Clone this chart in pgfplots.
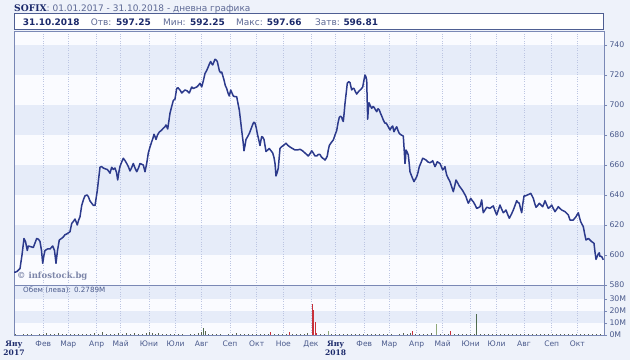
\documentclass[border=0pt]{standalone}
\usepackage{fontspec}
\setmainfont{DejaVu Sans}
\newfontfamily\serifb{DejaVu Serif}
\usepackage{pgfplots}
\pgfplotsset{compat=1.18}
\definecolor{bg}{HTML}{EEF2FA}
\definecolor{plotw}{HTML}{FAFBFF}
\definecolor{band}{HTML}{E6ECF9}
\definecolor{bordercol}{HTML}{7A88B5}
\definecolor{gridcol}{HTML}{BCC5E2}
\definecolor{linecol}{HTML}{2C3A8C}
\definecolor{labcol}{HTML}{4A5A8C}
\definecolor{hdr}{HTML}{5C6894}
\definecolor{navy}{HTML}{1C2A6B}
\definecolor{boxb}{HTML}{4E5E92}
\definecolor{volcol}{HTML}{5A6450}
\definecolor{volred}{HTML}{C8313A}
\definecolor{volgreen}{HTML}{8FA878}
\definecolor{voldkgreen}{HTML}{4F6B4F}
\newcommand{\yr}[2]{{\serifb\bfseries\color{navy}#1}\\{\serifb\bfseries\color{navy}#2}}
\begin{document}
\begin{tikzpicture}
\fill[bg] (0,0) rectangle (630bp,360bp);
\useasboundingbox (0,0) rectangle (630bp,360bp);
% main panel background and bands
\fill[plotw] (14bp,75bp) rectangle (604bp,329bp);
\fill[band] (14bp,105bp) rectangle (604bp,135bp);
\fill[band] (14bp,165bp) rectangle (604bp,195bp);
\fill[band] (14bp,225bp) rectangle (604bp,255bp);
\fill[band] (14bp,285bp) rectangle (604bp,315bp);
% volume panel background and bands
\fill[plotw] (14bp,25bp) rectangle (604bp,75bp);
\fill[band] (14bp,37bp) rectangle (604bp,49bp);
\fill[band] (14bp,61bp) rectangle (604bp,75bp);
% header
\node[anchor=base west, inner sep=0] at (14bp,348bp) {{\serifb\bfseries\fontsize{9.2}{10}\selectfont\color{navy}SOFIX}{\fontsize{9}{10}\selectfont\color{hdr}: 01.01.2017 - 31.10.2018 - дневна графика}};
\draw[boxb, fill=white, line width=0.9bp] (14bp,331bp) rectangle (603bp,346.5bp);
\begin{scope}[every node/.style={anchor=base west, inner sep=0, font=\fontsize{9}{10}\selectfont}]
\node[text=navy] at (22.7bp,334bp) {\bfseries 31.10.2018};
\node[text=hdr] at (90.7bp,334bp) {Отв:};
\node[text=navy] at (116bp,334bp) {\bfseries 597.25};
\node[text=hdr] at (163bp,334bp) {Мин:};
\node[text=navy] at (190bp,334bp) {\bfseries 592.25};
\node[text=hdr] at (236bp,334bp) {Макс:};
\node[text=navy] at (266.7bp,334bp) {\bfseries 597.66};
\node[text=hdr] at (315bp,334bp) {Затв:};
\node[text=navy] at (343.3bp,334bp) {\bfseries 596.81};
\end{scope}
% main price axis
\begin{axis}[
  at={(14bp,75bp)}, anchor=south west, scale only axis,
  width=590bp, height=254bp,
  xmin=14, xmax=604, ymin=580, ymax=749.333,
  axis line style={bordercol, line width=0.8bp},
  xtick={43.3,68.3,96.7,120.7,149,175.7,201.7,230,256.7,283.3,311,335.7,364.3,389.3,416.7,442.7,470.7,496.7,524,551.7,577.3},
  xticklabels={}, xtick style={draw=none},
  xmajorgrids, grid style={gridcol, dotted, line width=0.6bp},
  ytick={580,600,...,740}, ytick pos=right, yticklabel pos=right,
  tick align=outside, major tick length=3bp,
  ytick style={bordercol, line width=0.6bp},
  yticklabel style={font=\fontsize{7.8}{9}\selectfont, text=labcol, xshift=-1bp},
  /pgf/number format/assume math mode=true,
  clip=true,
]
\addplot[linecol, line width=1.5bp, line join=round, no marks] coordinates {
(14,588.5)(15,588.5)(17,589)(20,591)(22,600)(24,611)(25.5,609)(27.3,603)(28.3,606)(31,605.5)
(33.3,605)(35,608)(36.7,611)(38.5,610.5)(40,609)(41.5,603)(42.7,594.5)(44,600)(45,603)(47.5,604)
(50,604)(52.7,606)(54.5,603)(56,594.5)(57.5,603)(59.3,610)(61.5,611)(63.3,612)(65,613.5)(66.7,614)
(70,615.5)(71.7,621)(73.5,622.5)(75,624)(77.3,620)(78.5,623)(80,625.5)(81.7,633)(83.5,637)(85,639.5)
(87,640)(88.3,639)(90,636)(91.7,634.5)(93.5,633)(95,633)(97.3,643)(98.5,650)(100,658.5)(101.5,659)
(103.3,658)(105,657.5)(107.3,657)(108.5,656)(110,654.5)(111.7,658.5)(113.3,657)(115,658)(116.5,655)(117.7,650)
(118.8,655)(120,659)(121.7,662)(123.3,664.5)(125,663)(126.7,661)(128.3,659)(130,656)(131.5,658)(133.3,661)
(135,658)(136.7,655.5)(138.5,658)(140,661)(141.7,660.5)(143.3,660)(145,655.5)(146.7,661)(148.3,668)(150,672)
(151.7,675.5)(153,678)(154,680.5)(155,679)(156,677)(157.5,680)(159.3,682)(161.3,683)(163.3,684.5)(165,685.5)
(166,686.7)(167.7,684)(168.8,689)(170,694.5)(171.7,699)(173.3,703)(175,704)(176.7,711)(178,711.5)(179.3,710.5)
(180.5,709.5)(181.7,708)(183.3,709)(185,710)(187,709.5)(189.3,708)(190.5,710)(191.7,712)(193.3,711)(195,711.5)
(196.7,712)(198.3,713)(200,714.5)(201.7,712)(203.3,716)(205,721)(206.7,723)(208.3,725.5)(209.5,727.5)(210.7,729)
(211.7,727.5)(212.7,726.7)(213.8,728.5)(215,730.5)(216.2,730)(217.3,729)(218.3,726)(219.3,723)(220.5,721.5)(221.7,722)
(223,719)(224,716.7)(225.3,713)(226.7,711)(228,708)(229.3,706)(230.7,710)(232,708)(233.3,706)(235,705.5)
(236.7,705.5)(238,701)(239.3,696.7)(240.5,690)(241.7,683)(243,676)(244,669.5)(245,673)(246,677)(247.7,679)
(249.3,681)(251,684)(252.7,687)(253.8,688.5)(255,688)(256.2,685)(257.3,681)(258.7,677)(260,673)(260.8,676)
(261.7,679)(262.8,678.5)(264,677)(265,673)(266,669)(267.7,670)(269.3,671)(271,669.5)(272.7,668)(274,665)
(275,661)(276,652.7)(277.2,655)(278.3,658)(279.2,665)(280,671)(281.3,672)(282.7,672.7)(284.3,673.5)(286,674.5)
(288,673)(290,672)(292.5,671)(295,670)(297.5,670)(300,670.5)(302.5,669.5)(305,668)(306.7,667)(308.3,666)
(310,667.5)(311.7,669.5)(313.3,668)(315,666)(316.7,666)(318.3,667)(320,667)(321.3,665.5)(322.7,664.5)(324,664)
(325,663.3)(326.2,664.5)(327.3,666)(328.3,670)(329.3,673)(331.3,675)(333.3,676.7)(335,680)(336.7,683)(338,688)
(339.3,691.8)(340.5,692.5)(341.7,691.8)(342.5,690)(343.3,689)(344.2,695)(345,701)(346.2,708)(347.3,714.5)(348.7,715.5)
(350,715)(351,712)(351.7,710)(352.8,711)(354,711)(355.3,709)(356.7,707.3)(358,708.5)(359.3,709.5)(361,710.5)
(362.7,712)(363.8,716)(365,720)(365.8,719)(366.7,716.7)(367.2,703)(367.7,690.5)(368.3,697)(369,701.5)(370.3,699.5)
(371.7,697.8)(373,699)(374,698.5)(375.3,697)(376.7,695.5)(378,697.5)(379.3,696.7)(380.5,694.5)(381.7,692.7)(383.3,690)
(385,687.8)(386.2,688)(387.3,686.7)(388.7,685)(390,683.3)(391.3,685)(392.7,686)(393.3,684)(394,682.2)(395.3,684)
(396.7,685.5)(398,683)(399.3,681)(401.3,680)(403.3,679.3)(404.2,670)(405,661)(405.5,664)(406,670)(407.2,668.5)
(408.3,666.7)(409.2,661)(410,655.5)(412,652)(414,648.9)(415.3,650.5)(416.7,652.2)(418,655)(419.3,658.9)(421,661.5)
(422.7,664.5)(424.3,664)(426,663.3)(428,662)(430,661.5)(431.3,662)(432.7,662.9)(434,660.5)(435,658.9)(436.2,660.5)
(437.3,662.2)(438.7,661.5)(440,661)(441.3,659)(442.7,656.7)(443.8,657.5)(445,658.9)(445.8,656)(446.7,653.3)(448.3,651)
(450,648.9)(451.7,645.5)(453.3,642.2)(454.7,646)(456,650)(457.7,648)(459.3,646)(461,644.5)(462.7,642.9)(464.3,641)
(466,638.9)(467.2,636.5)(468.3,634.5)(469.5,636)(470.7,637.8)(472,636.5)(473.3,635.5)(475,633.5)(476.7,631.1)(478.3,631.5)
(480,632.2)(481.7,636.7)(482.5,632)(483.3,628.2)(485,630)(486.7,631.8)(488.3,631.5)(490,631.1)(491.7,632)(493.3,632.7)
(495,629.5)(496.7,626.7)(498.3,630)(500,633.3)(501.7,630.5)(503.3,628.2)(504.7,629)(506,630)(507.7,627)(509.3,624.5)
(511.3,627)(513.3,630)(515,633)(516.7,636.2)(518,635)(519.3,634.5)(520.5,631)(521.7,628.2)(522.8,634)(524,639.3)
(525.7,639.5)(527.3,640)(529,640.5)(530.7,641.1)(532,639.5)(533.3,637.8)(534.7,634.5)(536,631.8)(537.7,633)(539.3,634.5)
(541,633.3)(542.7,632.2)(543.8,634)(545,636.2)(546.7,633.5)(548.3,631.1)(550,632)(551.7,633.3)(553.3,631)(555,628.9)
(556.7,630.5)(558.3,632.2)(560,631)(561.7,630)(563.3,629.5)(565,628.9)(566.7,627.8)(568.3,626.7)(569.2,625)(570,623.3)
(571.7,623.3)(573.3,623.3)(574.7,624.5)(576,625.5)(577.2,627)(578.3,628.2)(579.5,625)(580.7,622.2)(582,620.5)(583.3,618.9)
(584.7,614)(586,610)(587.2,610.5)(588.3,611.1)(590,610)(591.7,608.9)(593,608.3)(594,607.8)(595,602)(596,597.1)
(597.2,599)(598.3,600.7)(599.3,601.5)(600,599)(601.7,599)(603.3,596.8)
};
\end{axis}
\node[anchor=base west, inner sep=0, text=hdr!80, font=\serifb\bfseries\fontsize{8.5}{9}\selectfont] at (17bp,81bp) {© infostock.bg};
% volume axis
\begin{axis}[
  at={(14bp,25bp)}, anchor=south west, scale only axis,
  width=590bp, height=50bp,
  xmin=14, xmax=604, ymin=0, ymax=41.667,
  axis line style={bordercol, line width=0.8bp},
  xtick={14,43.3,68.3,96.7,120.7,149,175.7,201.7,230,256.7,283.3,311,335.7,364.3,389.3,416.7,442.7,470.7,496.7,524,551.7,577.3},
  xticklabels={\yr{Яну}{2017},Фев,Мар,Апр,Май,Юни,Юли,Авг,Сеп,Окт,Ное,Дек,\yr{Яну}{2018},Фев,Мар,Апр,Май,Юни,Юли,Авг,Сеп,Окт},
  xtick style={draw=none},
  xticklabel style={font=\fontsize{7.6}{9}\selectfont, text=labcol, align=center, yshift=1bp},
  xmajorgrids, grid style={gridcol, dotted, line width=0.6bp},
  ytick={0,10,20,30}, yticklabels={0M,10M,20M,30M},
  ytick pos=right, yticklabel pos=right,
  tick align=outside, major tick length=3bp,
  ytick style={bordercol, line width=0.6bp},
  yticklabel style={font=\fontsize{7.8}{9}\selectfont, text=labcol, xshift=-1bp},
  clip=true,
]
\addplot[ycomb, volcol, line width=0.8bp, no marks] coordinates {
(15,0.6)(19,0.4)(23,0.8)(27,0.5)(31,0.7)(35,0.4)(39,1.0)(43,0.6)(46,1.5)(50,1.2)
(54,0.8)(58,1.4)(62,0.6)(66,0.9)(70,0.5)(74,0.8)(78,0.6)(82,1.1)(86,0.7)(90,0.5)
(94,1.6)(98,0.8)(102,2.2)(106,0.6)(110,1.0)(114,0.5)(118,1.3)(122,0.7)(126,1.5)(130,0.9)
(134,1.8)(138,1.0)(142,0.6)(146,1.4)(149,2.4)(152,1.8)(155,1.2)(158,2.0)(162,1.0)(166,0.8)
(170,0.6)(174,1.1)(178,0.5)(182,0.7)(186,0.4)(190,0.9)(194,0.6)(198,1.8)(201,2.8)(205,3.0)
(208,1.0)(212,0.6)(216,0.5)(220,0.7)(224,0.4)(228,1.2)(232,0.8)(236,1.5)(240,1.0)(244,0.6)
(248,0.9)(252,0.5)(256,0.7)(260,0.6)(264,0.8)(268,0.5)(274,0.9)(278,0.6)(282,1.2)(286,0.8)
(292,1.0)(296,0.7)(300,0.5)(304,0.8)(307,1.5)(320,1.2)(324,1.0)(331,0.7)(335,0.9)(339,0.6)
(343,0.8)(347,1.1)(351,0.5)(355,0.9)(359,0.6)(363,0.7)(367,1.2)(371,0.5)(375,0.8)(379,0.6)
(383,1.0)(387,0.5)(391,0.7)(395,0.4)(399,0.9)(403,1.4)(407,1.0)(410,1.8)(415,1.2)(419,0.6)
(423,0.5)(427,0.8)(431,1.6)(440,0.9)(444,1.2)(448,0.6)(454,0.8)(458,0.5)(462,0.7)(466,1.0)
(470,0.6)(474,1.2)(480,0.8)(484,0.6)(488,0.5)(492,0.9)(496,0.6)(500,0.5)(504,0.7)(508,1.0)
(512,0.6)(516,0.8)(520,0.5)(524,1.1)(528,0.7)(532,0.6)(536,1.0)(540,0.8)(544,0.5)(548,0.7)
(552,0.9)(556,0.6)(560,0.8)(564,0.5)(568,0.7)(572,1.0)(576,0.6)(580,0.8)(584,0.5)(588,0.9)
(592,0.6)(596,1.2)(600,0.7)
};
\addplot[ycomb, volred, line width=0.9bp, no marks] coordinates {
(270.7,2.8)(289.3,2.2)(312.3,25.8)(313.6,20.8)(315,11.0)(316.5,1.8)(412.3,3.3)(450,3.6)
};
\addplot[ycomb, volgreen, line width=0.9bp, no marks] coordinates {
(328.3,3.6)(436.7,8.9)
};
\addplot[ycomb, voldkgreen, line width=0.9bp, no marks] coordinates {
(203.5,5.8)(476.7,17.2)
};
\end{axis}
\node[anchor=base west, inner sep=0, text=labcol, font=\fontsize{7.2}{8}\selectfont] at (23bp,67.5bp) {Обем (лева): 0.2789M};
\end{tikzpicture}
\end{document}
